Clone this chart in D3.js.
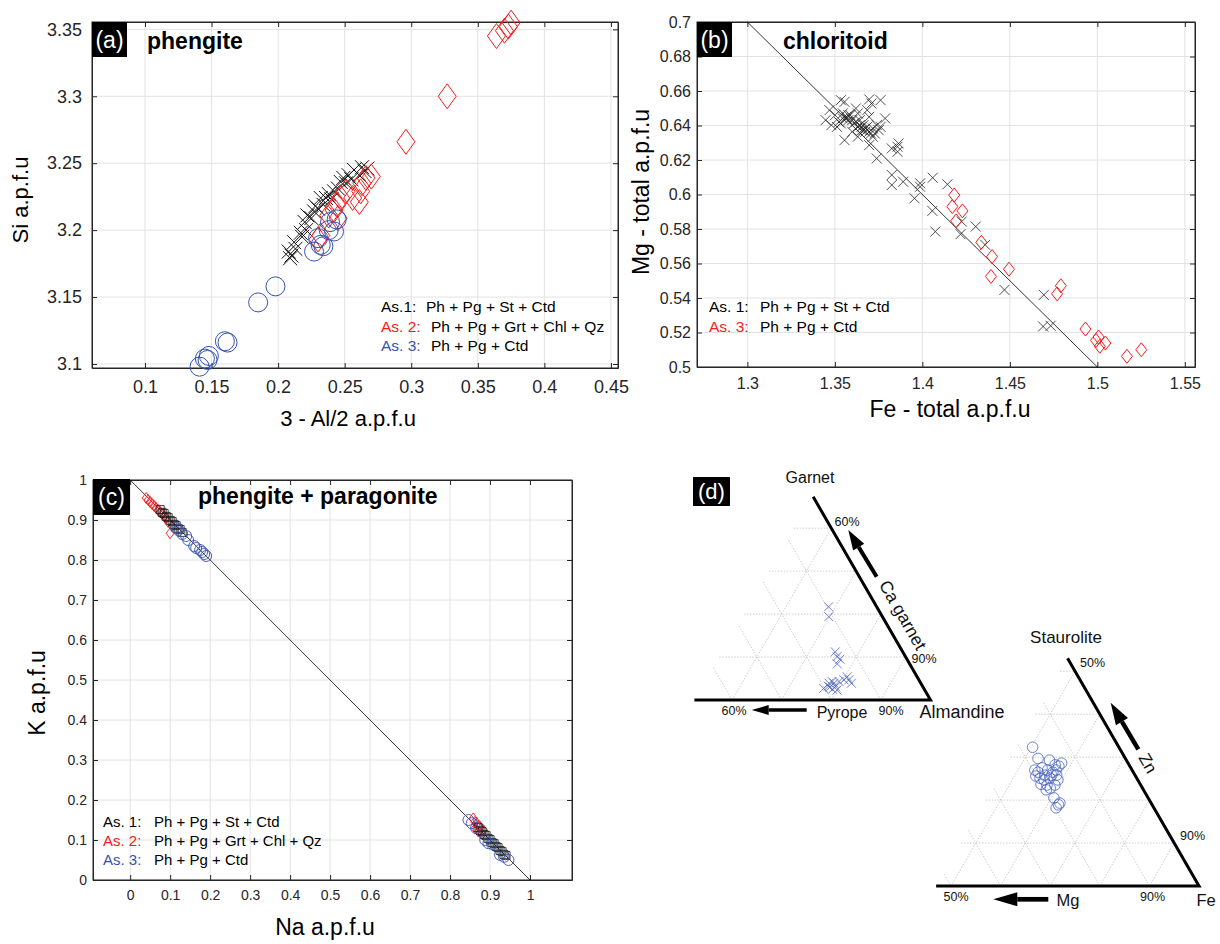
<!DOCTYPE html>
<html lang="en">
<head>
<meta charset="utf-8">
<script src="https://d3js.org/d3.v7.min.js"></script>
<style>
body { margin: 0; background: #fff; }
svg { font-family: "Liberation Sans", Arial, Helvetica, sans-serif; }
.grid { stroke: #e2e2e2; stroke-width: 1; }
.frame { fill: none; stroke: #262626; stroke-width: 1; }
.axis path, .axis line { stroke: #262626; }
.axis text { fill: #262626; }
.title { font-weight: bold; fill: #000; }
.tgrid { stroke: #b8b8b8; stroke-width: 0.7; stroke-dasharray: 1.5 1.5; fill: none; }
</style>
</head>
<body>
<script>
// ---------------- data ----------------
var red = "#f21c1c", blue = "#3553ad";

// (a) phengite : [3 - Al/2, Si]
var phenAs1 = [[0.208,3.184],[0.210,3.181],[0.213,3.186],[0.212,3.191],[0.217,3.198],[0.220,3.206],[0.221,3.200],
  [0.222,3.211],[0.227,3.214],[0.230,3.216],[0.234,3.219],[0.232,3.224],[0.236,3.224],[0.240,3.223],[0.242,3.229],
  [0.245,3.231],[0.249,3.239],[0.251,3.235],[0.253,3.241],[0.257,3.245],[0.261,3.241],[0.265,3.244],[0.267,3.246],
  [0.209,3.179],[0.218,3.195],[0.225,3.209],[0.228,3.218],[0.238,3.227],[0.247,3.236],[0.255,3.238],[0.263,3.247]];
var phenAs2 = [[0.364,3.345],[0.370,3.349],[0.373,3.352],[0.375,3.355],[0.327,3.300],[0.296,3.266],[0.266,3.239],
  [0.270,3.240],[0.263,3.235],[0.262,3.229],[0.256,3.224],[0.251,3.229],[0.247,3.224],[0.244,3.219],[0.242,3.215],
  [0.245,3.209],[0.238,3.211],[0.232,3.196],[0.230,3.193],[0.261,3.221]];
var phenAs3 = [[0.141,3.098],[0.145,3.104],[0.148,3.106],[0.147,3.103],[0.160,3.117],[0.162,3.116],[0.185,3.146],
  [0.198,3.158],[0.227,3.184],[0.232,3.189],[0.230,3.194],[0.238,3.200],[0.242,3.199],[0.244,3.208],[0.239,3.206],
  [0.234,3.188]];

// (b) chloritoid : [Fe total, Mg total]
var ctdAs1 = [[1.3534,0.6547],[1.3555,0.6537],[1.3696,0.6551],[1.3761,0.6547],[1.3709,0.6527],[1.3631,0.6470],
  [1.3447,0.6431],[1.3469,0.6489],[1.3501,0.6460],[1.3523,0.6421],[1.3545,0.6470],[1.3566,0.6450],[1.3577,0.6431],
  [1.3588,0.6460],[1.3609,0.6412],[1.3620,0.6499],[1.3631,0.6392],[1.3642,0.6431],[1.3653,0.6373],[1.3663,0.6402],
  [1.3674,0.6364],[1.3685,0.6392],[1.3696,0.6450],[1.3717,0.6383],[1.3728,0.6354],[1.3739,0.6402],[1.3480,0.6402],
  [1.3512,0.6392],[1.3555,0.6315],[1.3599,0.6364],[1.3631,0.6335],[1.3696,0.6286],[1.3739,0.6209],[1.3787,0.6441],
  [1.3685,0.6489],[1.3566,0.6441],[1.3577,0.6460],[1.3620,0.6421],[1.3653,0.6392],[1.3674,0.6383],[1.3663,0.6373],
  [1.3696,0.6364],[1.3706,0.6354],[1.3642,0.6402],[1.3599,0.6431],[1.3545,0.6441],[1.3534,0.6412],[1.3717,0.6335],
  [1.3750,0.6373],[1.3761,0.6392],
  [1.3825,0.6267],[1.3858,0.6277],[1.3864,0.6296],[1.3858,0.6248],[1.3825,0.6113],[1.3825,0.6055],[1.3890,0.6074],
  [1.3955,0.5978],[1.3987,0.6065],[1.3987,0.6045],[1.4059,0.6097],[1.4143,0.6059],[1.4057,0.5905],[1.4074,0.5785],
  [1.4225,0.5843],[1.4218,0.5770],[1.4305,0.5814],[1.4359,0.5708],[1.4469,0.5447],[1.4694,0.5418],[1.4690,0.5235],
  [1.4733,0.5239]];
var ctdAs3 = [[1.4182,0.5997],[1.4171,0.5930],[1.4229,0.5905],[1.4193,0.5847],[1.4337,0.5723],[1.4398,0.5640],
  [1.4495,0.5567],[1.4392,0.5525],[1.4791,0.5471],[1.4770,0.5424],[1.4932,0.5220],[1.4992,0.5154],[1.5007,0.5174],
  [1.5014,0.5120],[1.5046,0.5139],[1.5169,0.5062],[1.5251,0.5100]];
var ctdLine = [[1.3,0.7],[1.5,0.5]];

// (c) phengite + paragonite : [Na, K]
var ppAs1 = [[0.075,0.926],[0.080,0.919],[0.085,0.916],[0.090,0.909],[0.095,0.906],[0.100,0.899],[0.105,0.896],
  [0.110,0.889],[0.115,0.886],[0.120,0.879],[0.125,0.876],[0.130,0.869],
  [0.870,0.131],[0.875,0.124],[0.880,0.121],[0.885,0.114],[0.890,0.111],[0.895,0.104],[0.900,0.101],[0.905,0.094],
  [0.910,0.091],[0.915,0.084],[0.920,0.081],[0.925,0.074],[0.930,0.071],[0.935,0.064],[0.940,0.061]];
var ppAs2 = [[0.040,0.955],[0.045,0.950],[0.050,0.945],[0.055,0.940],[0.060,0.935],[0.065,0.930],[0.070,0.925],
  [0.075,0.920],[0.080,0.915],[0.085,0.910],[0.090,0.905],[0.100,0.867],[0.095,0.895],[0.105,0.885],
  [0.858,0.154],[0.862,0.145],[0.867,0.142],[0.871,0.135],[0.875,0.133],[0.883,0.125],[0.863,0.129],[0.871,0.121],
  [0.880,0.115]];
var ppAs3 = [[0.115,0.880],[0.120,0.875],[0.130,0.865],[0.140,0.860],[0.145,0.850],[0.160,0.835],[0.165,0.830],
  [0.175,0.825],[0.180,0.820],[0.185,0.815],[0.190,0.810],
  [0.846,0.150],[0.854,0.142],[0.865,0.130],[0.888,0.100],[0.896,0.092],[0.905,0.090],[0.925,0.063],[0.935,0.058],
  [0.946,0.050]];
var ppLine = [[0,1],[1,0]];

// (d) garnet : [Almandine, Pyrope, Ca garnet] in %
var garnetPts = [[68.6,9.7,21.7],[69.8,10.8,19.4],[75.2,13.6,11.2],[76.1,13.8,10.1],[77.0,13.5,9.5],[77.0,14.6,8.4],
  [77.1,20.2,2.7],[77.6,18.5,3.9],[78.0,17.7,4.3],[78.6,17.5,3.9],[79.3,17.6,3.1],[80.0,17.7,2.3],[80.5,14.1,5.4],
  [81.2,14.1,4.7],[82.1,14.0,3.9],[80.2,15.1,4.7],[79.4,16.3,4.3],[78.2,18.8,3.0],[79.0,18.5,2.5],[77.8,19.0,3.2]];
// (d) staurolite : [Fe, Mg, Zn] in %
var stauroPts = [[50.3,17.4,32.3],[52.7,17.6,29.7],[55.2,15.5,29.3],[58.0,13.4,28.6],[56.9,14.9,28.2],
  [53.4,19.6,27.0],[54.3,19.2,26.5],[54.6,17.9,27.5],[56.0,18.2,25.8],[56.0,17.0,27.0],[55.4,19.5,25.1],
  [56.4,18.9,24.7],[57.4,17.5,25.1],[57.3,16.2,26.5],[57.7,15.3,27.0],[59.2,16.1,24.7],[57.6,18.9,23.5],
  [58.6,18.6,22.8],[58.0,19.6,22.4],[59.2,17.3,23.5],[57.4,16.8,25.8],[54.3,20.1,25.6],[56.3,20.0,23.7],
  [58.4,15.8,25.8],[57.8,14.3,27.9],[62.2,18.9,18.9],[62.1,19.7,18.2],[62.3,18.4,19.3],[60.5,19.0,20.5]];

// tick values and labels
var aXTicks = [0.1,0.15,0.2,0.25,0.3,0.35,0.4,0.45];
var aXLabels = ["0.1","0.15","0.2","0.25","0.3","0.35","0.4","0.45"];
var aYTicks = [3.1,3.15,3.2,3.25,3.3,3.35];
var aYLabels = ["3.1","3.15","3.2","3.25","3.3","3.35"];
var bXTicks = [1.3,1.35,1.4,1.45,1.5,1.55];
var bXLabels = ["1.3","1.35","1.4","1.45","1.5","1.55"];
var bYTicks = [0.5,0.52,0.54,0.56,0.58,0.6,0.62,0.64,0.66,0.68,0.7];
var bYLabels = ["0.5","0.52","0.54","0.56","0.58","0.6","0.62","0.64","0.66","0.68","0.7"];
var cTicks = [0,0.1,0.2,0.3,0.4,0.5,0.6,0.7,0.8,0.9,1];
var cLabels = ["0","0.1","0.2","0.3","0.4","0.5","0.6","0.7","0.8","0.9","1"];

var legA = [["As.1:", "#000", "Ph + Pg + St + Ctd"], ["As. 2:", red, "Ph + Pg + Grt + Chl + Qz"], ["As. 3:", blue, "Ph + Pg + Ctd"]];
var legB = [["As. 1:", "#000", "Ph + Pg + St + Ctd"], ["As. 3:", red, "Ph + Pg + Ctd"]];
var legC = [["As. 1:", "#000", "Ph + Pg + St + Ctd"], ["As. 2:", red, "Ph + Pg + Grt + Chl + Qz"], ["As. 3:", blue, "Ph + Pg + Ctd"]];

// ---------------- drawing ----------------
var svg = d3.select("body").append("svg").attr("width", 1220).attr("height", 944);

function panel(p) {
  var x = d3.scaleLinear().domain(p.xDomain).range(p.xRange);
  var y = d3.scaleLinear().domain(p.yDomain).range(p.yRange);
  var left = p.xRange[0], right = p.xRange[1], bottom = p.yRange[0], top = p.yRange[1];
  var g = svg.append("g");

  g.append("g").selectAll("line").data(p.xTicks).join("line").attr("class", "grid")
    .attr("x1", d => x(d)).attr("x2", d => x(d)).attr("y1", top).attr("y2", bottom);
  g.append("g").selectAll("line").data(p.yTicks).join("line").attr("class", "grid")
    .attr("x1", left).attr("x2", right).attr("y1", d => y(d)).attr("y2", d => y(d));

  function style(s) { s.attr("font-family", null).attr("font-size", p.tickFont); }
  g.append("g").attr("class", "axis").attr("transform", "translate(0," + bottom + ")")
    .call(d3.axisBottom(x).tickValues(p.xTicks).tickFormat((d, i) => p.xLabels[i]).tickSize(-5).tickSizeOuter(0).tickPadding(p.xPad))
    .call(style);
  g.append("g").attr("class", "axis").attr("transform", "translate(0," + top + ")")
    .call(d3.axisTop(x).tickValues(p.xTicks).tickFormat("").tickSize(-5).tickSizeOuter(0));
  g.append("g").attr("class", "axis").attr("transform", "translate(" + left + ",0)")
    .call(d3.axisLeft(y).tickValues(p.yTicks).tickFormat((d, i) => p.yLabels[i]).tickSize(-5).tickSizeOuter(0).tickPadding(p.yPad))
    .call(style);
  g.append("g").attr("class", "axis").attr("transform", "translate(" + right + ",0)")
    .call(d3.axisRight(y).tickValues(p.yTicks).tickFormat("").tickSize(-5).tickSizeOuter(0));
  g.append("rect").attr("class", "frame").attr("x", left).attr("y", top)
    .attr("width", right - left).attr("height", bottom - top);

  // panel tag
  g.append("rect").attr("x", left).attr("y", p.tag.y).attr("width", p.tag.w).attr("height", p.tag.h).attr("fill", "#000");
  g.append("text").attr("x", left + p.tag.w / 2).attr("y", p.tag.y + p.tag.h / 2 + 8).attr("text-anchor", "middle")
    .attr("fill", "#fff").attr("font-size", 23).text(p.tag.text);
  g.append("text").attr("class", "title").attr("x", p.title.x).attr("y", p.title.y)
    .attr("font-size", 23).text(p.title.text);

  // axis titles
  g.append("text").attr("x", p.xTitle.x).attr("y", p.xTitle.y).attr("text-anchor", "middle")
    .attr("font-size", p.titleFont).attr("fill", "#000").text(p.xTitle.text);
  g.append("text").attr("transform", "translate(" + p.yTitle.x + "," + p.yTitle.y + ") rotate(-90)")
    .attr("text-anchor", "middle").attr("font-size", p.titleFont).attr("fill", "#000").text(p.yTitle.text);

  // legend
  var lg = g.append("g").attr("font-size", p.leg.size);
  p.leg.rows.forEach(function (r, i) {
    lg.append("text").attr("x", p.leg.x).attr("y", p.leg.y + i * p.leg.dy).attr("fill", r[1]).text(r[0]);
    lg.append("text").attr("x", p.leg.tx[i]).attr("y", p.leg.y + i * p.leg.dy).attr("fill", "#000").text(r[2]);
  });
  return { g: g, x: x, y: y };
}

function diamondPath(w, h) { return "M0," + (-h) + "L" + w + ",0L0," + h + "L" + (-w) + ",0Z"; }
function crossPath(s) { return "M" + (-s) + "," + (-s) + "L" + s + "," + s + "M" + (-s) + "," + s + "L" + s + "," + (-s); }
function squarePath(s) { return "M" + (-s) + "," + (-s) + "H" + s + "V" + s + "H" + (-s) + "Z"; }

function marks(P, data, shape, color, width) {
  return P.g.append("g").selectAll("path").data(data).join("path")
    .attr("transform", d => "translate(" + P.x(d[0]) + "," + P.y(d[1]) + ")")
    .attr("d", shape).attr("fill", "none").attr("stroke", color).attr("stroke-width", width);
}
function circles(P, data, r, color, width) {
  return P.g.append("g").selectAll("circle").data(data).join("circle")
    .attr("cx", d => P.x(d[0])).attr("cy", d => P.y(d[1])).attr("r", r)
    .attr("fill", "none").attr("stroke", color).attr("stroke-width", width);
}
function refLine(P, data) {
  P.g.append("path").datum(data).attr("d", d3.line().x(d => P.x(d[0])).y(d => P.y(d[1])))
    .attr("stroke", "#000").attr("stroke-width", 0.8).attr("fill", "none");
}

// ----- (a)
var PA = panel({
  xDomain: [0.0602, 0.4553], xRange: [92, 618], yDomain: [3.097, 3.3555], yRange: [368, 22],
  xTicks: aXTicks, xLabels: aXLabels, yTicks: aYTicks, yLabels: aYLabels,
  tickFont: 18, xPad: 12, yPad: 10, titleFont: 22,
  tag: { y: 22, w: 35, h: 35, text: "(a)" },
  title: { x: 147, y: 49, text: "phengite" },
  xTitle: { x: 348, y: 426, text: "3 - Al/2 a.p.f.u" },
  yTitle: { x: 28, y: 200, text: "Si a.p.f.u" },
  leg: { x: 381, y: 312, dy: 19.5, size: 15.5, tx: [426, 431, 431], rows: legA }
});
marks(PA, phenAs1, crossPath(7), "#111", 1);
marks(PA, phenAs2, diamondPath(9, 12.5), red, 1);
circles(PA, phenAs3, 9.5, blue, 1);

// ----- (b)
var PB = panel({
  xDomain: [1.2712, 1.5558], xRange: [697, 1195], yDomain: [0.5, 0.7], yRange: [367, 22],
  xTicks: bXTicks, xLabels: bXLabels, yTicks: bYTicks, yLabels: bYLabels,
  tickFont: 16, xPad: 11, yPad: 6, titleFont: 23,
  tag: { y: 22, w: 35, h: 35, text: "(b)" },
  title: { x: 783, y: 49, text: "chloritoid" },
  xTitle: { x: 950, y: 417, text: "Fe - total a.p.f.u" },
  yTitle: { x: 649, y: 192, text: "Mg - total a.p.f.u" },
  leg: { x: 709, y: 312, dy: 19.5, size: 15.5, tx: [760, 760], rows: legB }
});
refLine(PB, ctdLine);
marks(PB, ctdAs1, crossPath(5), "#222", 0.8);
marks(PB, ctdAs3, diamondPath(5.5, 7), red, 1);

// ----- (c)
var PC = panel({
  xDomain: [-0.093, 1.105], xRange: [93, 572], yDomain: [0, 1], yRange: [880, 480],
  xTicks: cTicks, xLabels: cLabels, yTicks: cTicks, yLabels: cLabels,
  tickFont: 14, xPad: 10, yPad: 6, titleFont: 23,
  tag: { y: 479, w: 37, h: 36, text: "(c)" },
  title: { x: 198, y: 504, text: "phengite + paragonite" },
  xTitle: { x: 325, y: 935, text: "Na a.p.f.u" },
  yTitle: { x: 45, y: 693, text: "K a.p.f.u" },
  leg: { x: 103, y: 827, dy: 19.2, size: 15, tx: [154, 154, 154], rows: legC }
});
refLine(PC, ppLine);
marks(PC, ppAs2, diamondPath(4, 5.5), red, 0.9);
marks(PC, ppAs1, squarePath(4), "#111", 0.8);
circles(PC, ppAs3, 5.5, blue, 0.9);

// ----- (d) ternary diagrams
function ternary(t) {
  var side = d3.scaleLinear().domain([0, 100]).range([0, t.L]);
  var rise = d3.scaleLinear().domain([0, 100]).range([0, t.L * Math.sqrt(3) / 2]);
  var pt = (a, b, c) => [t.cx - side(b + c / 2), t.cy - rise(c)];
  var g = svg.append("g");
  var segs = [];
  t.cLevels.forEach(c => segs.push([pt(t.m0, 100 - t.m0 - c, c), pt(100 - c, 0, c)]));
  t.bLevels.forEach(b => { var ce = Math.min(100 - b - t.m0, t.cMax); segs.push([pt(100 - b, b, 0), pt(100 - b - ce, b, ce)]); });
  t.aLevels.forEach(a => { var ce = Math.min(100 - a, t.cMax); segs.push([pt(a, 100 - a, 0), pt(a, 100 - a - ce, ce)]); });
  g.selectAll("line.tg").data(segs).join("line").attr("class", "tgrid")
    .attr("x1", d => d[0][0]).attr("y1", d => d[0][1]).attr("x2", d => d[1][0]).attr("y2", d => d[1][1]);
  var edge = [pt(t.m0, 100 - t.m0, 0), pt(100, 0, 0), pt(100 - t.cMax, 0, t.cMax)];
  g.append("path").attr("d", d3.line()(edge)).attr("fill", "none").attr("stroke", "#000").attr("stroke-width", 3);
  return { g: g, pt: pt };
}

function arrow(g, x1, y1, x2, y2, sw, hl, hw) {
  var dx = x2 - x1, dy = y2 - y1, len = Math.sqrt(dx * dx + dy * dy), ux = dx / len, uy = dy / len;
  var bx = x2 - ux * hl, by = y2 - uy * hl;
  g.append("line").attr("x1", x1).attr("y1", y1).attr("x2", bx).attr("y2", by).attr("stroke", "#000").attr("stroke-width", sw);
  g.append("path").attr("d", "M" + x2 + "," + y2 + "L" + (bx - uy * hw) + "," + (by + ux * hw) + "L" + (bx + uy * hw) + "," + (by - ux * hw) + "Z")
    .attr("fill", "#000");
}
function label(g, x, y, txt, size, rot) {
  var t = g.append("text").attr("text-anchor", "middle").attr("font-size", size).attr("fill", "#111").attr("dy", "0.35em").text(txt);
  t.attr("transform", "translate(" + x + "," + y + ")" + (rot ? " rotate(" + rot + ")" : ""));
}

var GT = ternary({ cx: 930.5, cy: 700, L: 496, m0: 52.4, cMax: 47.3,
  cLevels: [10, 20, 30, 40], bLevels: [10, 20, 30, 40], aLevels: [60, 70, 80, 90] });
GT.g.selectAll("path.pt").data(garnetPts).join("path")
  .attr("transform", d => "translate(" + GT.pt(d[0], d[1], d[2]) + ")")
  .attr("d", crossPath(4.5)).attr("fill", "none").attr("stroke", "#4a63c0").attr("stroke-width", 0.8);

var ST = ternary({ cx: 1199, cy: 886, L: 496, m0: 47, cMax: 53,
  cLevels: [10, 20, 30, 40, 50], bLevels: [10, 20, 30, 40, 50], aLevels: [50, 60, 70, 80, 90] });
ST.g.selectAll("circle.pt").data(stauroPts).join("circle")
  .attr("cx", d => ST.pt(d[0], d[1], d[2])[0]).attr("cy", d => ST.pt(d[0], d[1], d[2])[1]).attr("r", 5.3)
  .attr("fill", "none").attr("stroke", "#4a63c0").attr("stroke-width", 0.8);

var D = svg.append("g");
D.append("rect").attr("x", 693).attr("y", 477).attr("width", 37).attr("height", 29).attr("fill", "#000");
D.append("text").attr("x", 711.5).attr("y", 499).attr("text-anchor", "middle").attr("fill", "#fff").attr("font-size", 22).text("(d)");

label(D, 810, 477, "Garnet", 16);
label(D, 847, 522, "60%", 12.5);
label(D, 924, 659, "90%", 12.5);
label(D, 734, 711, "60%", 12.5);
label(D, 891, 711, "90%", 12.5);
label(D, 842, 712, "Pyrope", 16);
label(D, 962, 712, "Almandine", 18);
label(D, 903, 615, "Ca garnet", 17.5, 60);
arrow(D, 876.7, 576.7, 848.3, 530, 4, 20, 6.5);
arrow(D, 806.7, 710, 751.7, 710, 3.5, 17, 5);

label(D, 1066, 637, "Staurolite", 17);
label(D, 1092.5, 663, "50%", 12.5);
label(D, 1192.5, 836, "90%", 12.5);
label(D, 956, 897, "50%", 12.5);
label(D, 1152.5, 897, "90%", 12.5);
label(D, 1068, 900, "Mg", 16.5);
label(D, 1206, 900, "Fe", 16.5);
label(D, 1148, 763, "Zn", 17, 60);
arrow(D, 1138.3, 749.3, 1110.7, 702.7, 4.5, 22, 7);
arrow(D, 1048.3, 899.3, 993.3, 899.3, 4.7, 24, 7);
</script>
</body>
</html>
